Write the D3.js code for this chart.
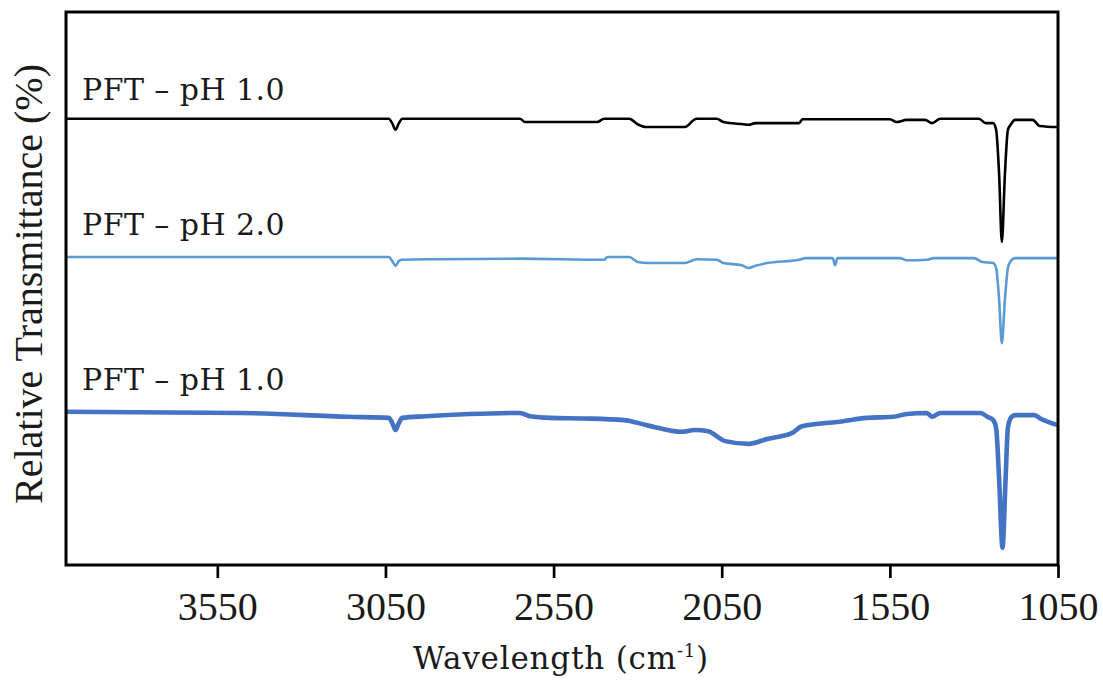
<!DOCTYPE html>
<html>
<head>
<meta charset="utf-8">
<script src="https://cdn.jsdelivr.net/npm/d3@7"></script>
<style>
  html, body { margin: 0; padding: 0; background: #fff; }
  svg { display: block; }
</style>
</head>
<body>
<svg id="chart" width="1103" height="685"></svg>
<script>
// FTIR spectra, offset vertically (relative transmittance, arbitrary units)
const tickValues = [3550, 3050, 2550, 2050, 1550, 1050];
const seriesLabels = ["PFT – pH 1.0", "PFT – pH 2.0", "PFT – pH 1.0"];

// top trace
const waveA = [4000, 3040, 3030, 3020, 3010, 3000, 2650, 2635, 2420, 2400, 2325, 2300, 2275, 2160, 2125, 2065, 2045, 1985, 1970, 1950, 1820, 1810, 1550, 1530, 1500, 1445, 1425, 1400, 1285, 1265, 1243, 1234, 1225, 1217, 1208, 1199, 1190, 1178, 1125, 1105, 1050];
const transA = [80.7, 80.7, 79.9, 78.7, 79.9, 80.7, 80.7, 80.1, 80.1, 80.7, 80.7, 79.7, 79.2, 79.2, 80.7, 80.7, 80.1, 79.7, 79.6, 79.9, 79.9, 80.6, 80.6, 80.1, 80.5, 80.5, 79.9, 80.7, 80.7, 79.9, 79.9, 78.7, 70.5, 58.4, 70.5, 78.7, 79.7, 80.5, 80.5, 79.4, 79.2];

// middle trace
const waveB = [4000, 3040, 3030, 3020, 3010, 3000, 2900, 2650, 2400, 2390, 2325, 2300, 2270, 2160, 2125, 2065, 2045, 1990, 1970, 1950, 1915, 1820, 1800, 1720, 1713, 1706, 1520, 1500, 1440, 1420, 1300, 1275, 1243, 1234, 1225, 1217, 1208, 1199, 1190, 1178, 1050];
const transB = [55.7, 55.7, 55.0, 54.1, 55.0, 55.2, 55.3, 55.4, 55.2, 55.7, 55.7, 54.8, 54.6, 54.6, 55.3, 55.2, 54.6, 54.2, 53.7, 54.1, 54.6, 55.2, 55.5, 55.5, 54.2, 55.5, 55.5, 55.1, 55.2, 55.5, 55.5, 54.8, 54.6, 53.7, 47.9, 40.1, 47.9, 53.7, 55.0, 55.5, 55.5];

// bottom trace
const waveC = [4000, 3480, 3160, 3040, 3030, 3020, 3010, 3000, 2930, 2800, 2650, 2620, 2560, 2460, 2340, 2300, 2240, 2170, 2130, 2090, 2065, 2040, 1970, 1915, 1840, 1815, 1770, 1700, 1620, 1540, 1500, 1440, 1425, 1400, 1280, 1260, 1243, 1234, 1225, 1215, 1206, 1199, 1190, 1178, 1120, 1100, 1050];
const transC = [27.7, 27.5, 26.8, 26.6, 25.7, 24.4, 25.7, 26.6, 26.9, 27.3, 27.5, 26.9, 26.6, 26.5, 26.2, 25.7, 24.8, 24.1, 24.4, 24.2, 23.3, 22.4, 21.9, 22.8, 23.9, 25.0, 25.5, 25.9, 26.6, 26.8, 27.3, 27.5, 26.8, 27.5, 27.5, 26.8, 26.2, 24.8, 15.4, 3.1, 15.4, 24.8, 26.6, 27.1, 27.1, 26.4, 25.3];

const series = [
  { wave: waveA, trans: transA, color: "#000000", width: 2.6 },
  { wave: waveB, trans: transB, color: "#5B9BD5", width: 2.6 },
  { wave: waveC, trans: transC, color: "#4472C4", width: 4.6 }
];

const svg = d3.select("#chart");
const plot = { left: 66, right: 1058, top: 12, bottom: 565 };

const x = d3.scaleLinear().domain([4000, 1050]).range([plot.left, plot.right]);
const y = d3.scaleLinear().domain([0, 100]).range([plot.bottom, plot.top]);

svg.append("rect").attr("width", 1103).attr("height", 685).attr("fill", "#fff");

svg.append("clipPath").attr("id", "plotClip")
  .append("rect")
  .attr("x", plot.left).attr("y", plot.top)
  .attr("width", plot.right - plot.left).attr("height", plot.bottom - plot.top);

const line = d3.line()
  .x(d => x(d[0]))
  .y(d => y(d[1]))
  .curve(d3.curveMonotoneX);

svg.append("g").attr("clip-path", "url(#plotClip)")
  .selectAll("path")
  .data(series)
  .join("path")
  .attr("d", s => line(s.wave.map((w, i) => [w, s.trans[i]])))
  .attr("fill", "none")
  .attr("stroke", s => s.color)
  .attr("stroke-width", s => s.width)
  .attr("stroke-linejoin", "round");

// series labels
const labelBaselines = [100, 235, 390];
svg.selectAll("text.series")
  .data(seriesLabels)
  .join("text")
  .attr("class", "series")
  .attr("x", 82)
  .attr("y", (d, i) => labelBaselines[i])
  .attr("font-family", "'DejaVu Serif', serif")
  .attr("font-size", 30)
  .attr("letter-spacing", 0.45)
  .attr("fill", "#1a1a1a")
  .text(d => d);

// x axis
const xAxis = svg.append("g")
  .attr("transform", `translate(0,${plot.bottom})`)
  .call(d3.axisBottom(x).tickValues(tickValues).tickSize(13).tickPadding(14).tickFormat(d3.format("d")));
xAxis.select(".domain").remove();
xAxis.selectAll(".tick line").attr("stroke", "#000").attr("stroke-width", 2.7);
xAxis.selectAll(".tick text")
  .attr("font-family", "'Liberation Serif', serif")
  .attr("font-size", 40)
  .attr("fill", "#1a1a1a");

// frame
svg.append("rect")
  .attr("x", plot.left).attr("y", plot.top)
  .attr("width", plot.right - plot.left).attr("height", plot.bottom - plot.top)
  .attr("fill", "none").attr("stroke", "#000").attr("stroke-width", 3);

// axis titles
const xt = svg.append("text")
  .attr("x", 561).attr("y", 669)
  .attr("text-anchor", "middle")
  .attr("font-family", "'DejaVu Serif', serif")
  .attr("font-size", 31)
  .attr("letter-spacing", 0.8)
  .attr("fill", "#1a1a1a");
xt.append("tspan").text("Wavelength (cm");
xt.append("tspan").attr("dy", -12).attr("font-size", 18).text("-1");
xt.append("tspan").attr("dy", 12).text(")");

svg.append("text")
  .attr("transform", "translate(42,284) rotate(-90)")
  .attr("text-anchor", "middle")
  .attr("font-family", "'Liberation Serif', serif")
  .attr("font-size", 40)
  .attr("fill", "#1a1a1a")
  .text("Relative Transmittance (%)");
</script>
</body>
</html>
